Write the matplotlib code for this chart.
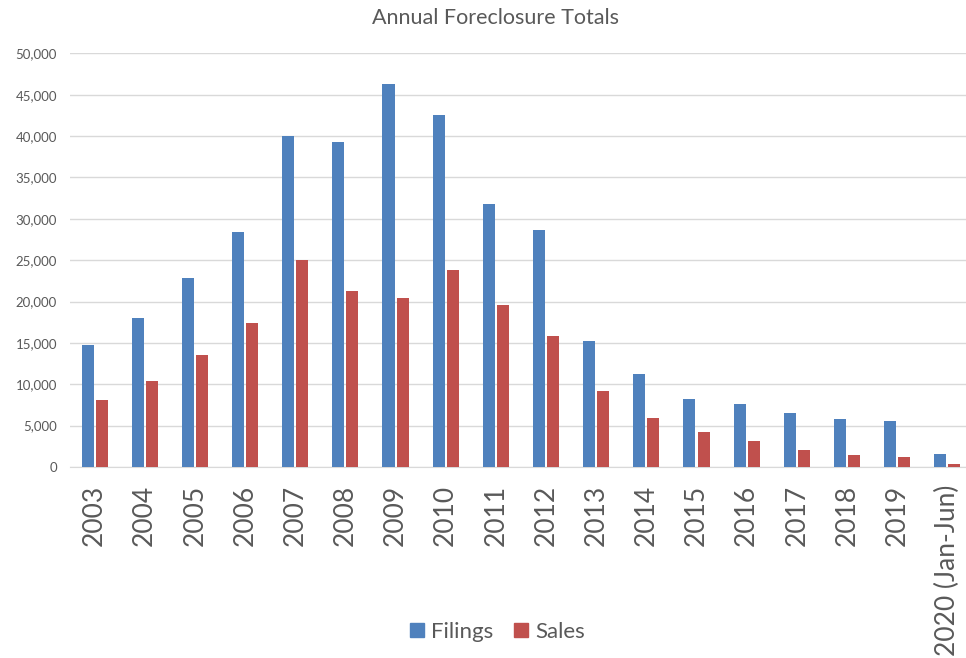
import numpy as np
import matplotlib.pyplot as plt
from matplotlib.ticker import FuncFormatter
from matplotlib.lines import Line2D

years = ['2003', '2004', '2005', '2006', '2007', '2008', '2009', '2010', '2011',
         '2012', '2013', '2014', '2015', '2016', '2017', '2018', '2019', '2020 (Jan-Jun)']
filings = [14750, 18000, 22850, 28450, 39970, 39320, 46330, 42590, 31830,
           28600, 15230, 11200, 8260, 7620, 6530, 5760, 5600, 1530]
sales = [8100, 10430, 13540, 17400, 25020, 21310, 20390, 23810, 19580,
         15870, 9190, 5920, 4190, 3140, 2060, 1410, 1250, 320]

blue = '#4f81bd'
red = '#c0504d'
txt = '#595959'
plt.rcParams['font.family'] = ['Lato', 'DejaVu Sans']

fig = plt.figure(figsize=(9.66, 6.58), dpi=100)
ax = fig.add_axes([69.5 / 966, 1 - 467 / 658, 50.16 * 18 / 966, (467 - 53.3) / 658])

x = np.arange(len(years))
w = 0.24
ax.bar(x - 0.14, filings, w, color=blue, zorder=3)
ax.bar(x + 0.14, sales, w, color=red, zorder=3)

ax.set_xlim(-0.5, len(years) - 0.5)
ax.set_ylim(0, 50000)
ax.set_yticks(np.arange(0, 50001, 5000))
ax.yaxis.set_major_formatter(FuncFormatter(lambda v, p: f'{int(v):,}'))
ax.grid(axis='y', color='#d9d9d9', linewidth=1, zorder=0)
for s in ['top', 'right', 'left']:
    ax.spines[s].set_visible(False)
ax.spines['bottom'].set_color('#d9d9d9')
ax.tick_params(axis='y', length=0, pad=9, labelsize=9.5, labelcolor=txt)
ax.tick_params(axis='x', length=0, pad=13, labelsize=19, labelcolor=txt)
ax.set_xticks(x)
ax.set_xticklabels(years, rotation=90, va='top', ha='center')

fig.text(495 / 966, 1 - 18 / 658, 'Annual Foreclosure Totals', ha='center', va='center',
         fontsize=15.5, color=txt)

handles = [Line2D([], [], marker='s', linestyle='none', markersize=10, color=blue),
           Line2D([], [], marker='s', linestyle='none', markersize=10, color=red)]
fig.legend(handles, ['Filings', 'Sales'], loc='center', bbox_to_anchor=(497 / 966, 1 - 632 / 658),
           ncol=2, frameon=False, fontsize=16, labelcolor=txt, handlelength=0.7,
           handletextpad=0.3, columnspacing=0.9)

plt.savefig('out.png', dpi=100)
